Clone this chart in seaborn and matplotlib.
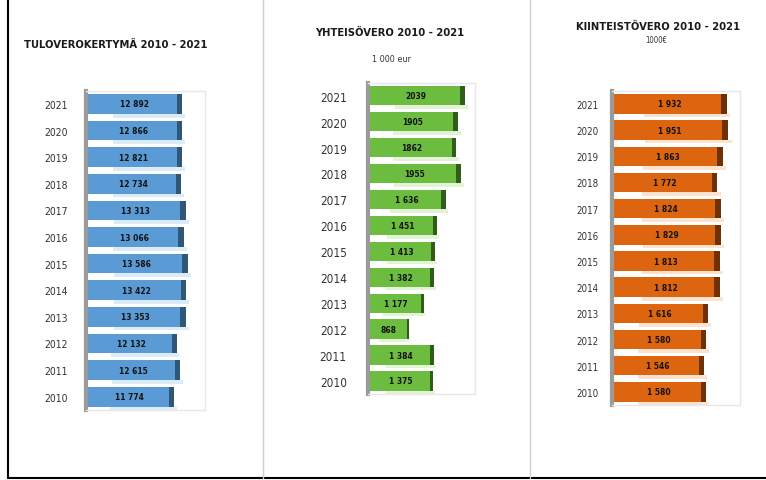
#!/usr/bin/env python3
import numpy as np
import pandas as pd
import matplotlib
matplotlib.use("Agg")
import matplotlib.pyplot as plt
import seaborn as sns
from matplotlib.lines import Line2D
from matplotlib import font_manager as fm

# ---------- data ----------
years = ["2021", "2020", "2019", "2018", "2017", "2016",
         "2015", "2014", "2013", "2012", "2011", "2010"]

tulovero = [12892, 12866, 12821, 12734, 13313, 13066,
            13586, 13422, 13353, 12132, 12615, 11774]
tulovero_lbl = ["12 892", "12 866", "12 821", "12 734", "13 313", "13 066",
                "13 586", "13 422", "13 353", "12 132", "12 615", "11 774"]

yhteiso = [2039, 1905, 1862, 1955, 1636, 1451,
           1413, 1382, 1177, 868, 1384, 1375]
yhteiso_lbl = ["2039", "1905", "1862", "1955", "1 636", "1 451",
               "1 413", "1 382", "1 177", "868", "1 384", "1 375"]

kiinteisto = [1932, 1951, 1863, 1772, 1824, 1829,
              1813, 1812, 1616, 1580, 1546, 1580]
kiinteisto_lbl = ["1 932", "1 951", "1 863", "1 772", "1 824", "1 829",
                  "1 813", "1 812", "1 616", "1 580", "1 546", "1 580"]

titles = ["TULOVEROKERTYMÄ 2010 - 2021", "YHTEISÖVERO 2010 - 2021",
          "KIINTEISTÖVERO 2010 - 2021"]
subtitles = ["", "1 000 eur", "1000€"]

sns.set_style("white")
names = {f.name for f in fm.fontManager.ttflist}
NARROW = ["Liberation Sans Narrow", "DejaVu Sans"] if "Liberation Sans Narrow" in names else ["DejaVu Sans"]
plt.rcParams["font.family"] = NARROW
plt.rcParams["font.stretch"] = "condensed"

fig = plt.figure(figsize=(7.66, 4.81), dpi=100)

panels = [
    # values, labels, colour, dark cap, light strip, axes rect, xmax, tick size, pad
    (tulovero, tulovero_lbl, "#5b9bd5", "#2f5878", "#dcebf8",
     [0.112, 0.1455, 0.155, 0.664], 15850, 7.5, 13),
    (yhteiso, yhteiso_lbl, "#6cbd3f", "#2f5e17", "#e3f4d6",
     [0.480, 0.179, 0.140, 0.647], 2250, 8.5, 15),
    (kiinteisto, kiinteisto_lbl, "#dd650f", "#6e3005", "#fbe3cf",
     [0.799, 0.156, 0.167, 0.653], 2150, 7, 10),
]

for vals, lbls, col, dark, light, rect, xmax, tsize, pad in panels:
    ax = fig.add_axes(rect)
    df = pd.DataFrame({"year": years, "value": vals})
    v = np.array(vals)
    pos = np.arange(len(years))
    # pale floor strip under each bar (3D look)
    ax.barh(pos + 0.44, v * 0.75, left=v * 0.28, height=0.14,
            color=light, linewidth=0)
    sns.barplot(data=df, x="value", y="year", order=years, orient="h",
                color=col, saturation=1, width=0.74, linewidth=0, ax=ax)
    # dark end cap
    cap = v * 0.055
    ax.barh(pos, cap, left=v - cap, height=0.74, color=dark, linewidth=0)
    for i, (val, t) in enumerate(zip(vals, lbls)):
        ax.text(val / 2, i, t, ha="center", va="center", fontsize=6,
                fontweight="bold", color="#111111", fontstretch="condensed")
    ax.set_xlim(0, xmax)
    ax.set_ylim(len(years) - 0.5, -0.5)
    ax.set_xlabel("")
    ax.set_ylabel("")
    ax.set_xticks([])
    ax.tick_params(axis="y", length=0, labelsize=tsize, colors="#333333", pad=pad)
    ax.spines["left"].set_color("#9a9a9a")
    ax.spines["left"].set_linewidth(3)
    for s in ["top", "right", "bottom"]:
        ax.spines[s].set_color("#e8e8e8")
        ax.spines[s].set_linewidth(1)

# titles
tkw = dict(ha="center", va="center", fontweight="bold", color="#1a1a1a",
           fontstretch="condensed")
fig.text(116 / 766, 1 - 45 / 481, titles[0], fontsize=8, **tkw)
fig.text(390 / 766, 1 - 33 / 481, titles[1], fontsize=8, **tkw)
fig.text(392 / 766, 1 - 60 / 481, subtitles[1], ha="center", va="center",
         fontsize=6.5, color="#333333")
fig.text(658 / 766, 1 - 27 / 481, titles[2], fontsize=8, **tkw)
fig.text(656 / 766, 1 - 41 / 481, subtitles[2], ha="center", va="center",
         fontsize=5.5, color="#333333")

# frame and panel separators
fig.add_artist(Line2D([8 / 766, 8 / 766], [0.005, 1], color="black", lw=1.5))
fig.add_artist(Line2D([8 / 766, 1], [0.005, 0.005], color="black", lw=1.5))
for xs in [263 / 766, 530 / 766]:
    fig.add_artist(Line2D([xs, xs], [0.005, 1], color="#d0d0d0", lw=1))

fig.savefig("out.png", dpi=100)
